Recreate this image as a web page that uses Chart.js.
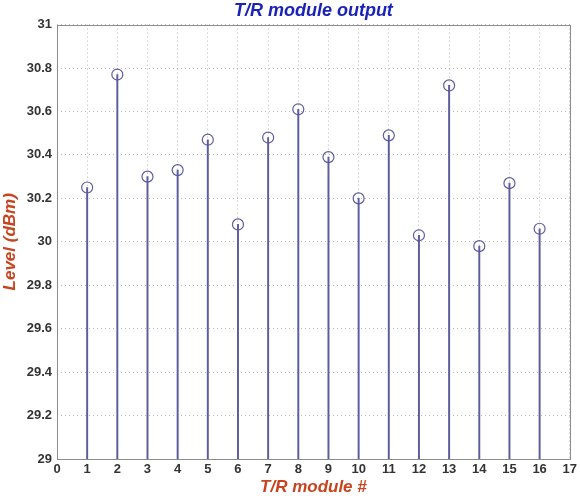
<!DOCTYPE html>
<html>
<head>
<meta charset="utf-8">
<script src="https://cdn.jsdelivr.net/npm/chart.js@4"></script>
<style>
  html, body { margin: 0; padding: 0; background: #fff; }
  #box { width: 580px; height: 498px; position: relative; }
</style>
</head>
<body>
<div id="box"><canvas id="grafica"></canvas></div>
<script>
const modules = [1, 2, 3, 4, 5, 6, 7, 8, 9, 10, 11, 12, 13, 14, 15, 16];
const levels = [30.25, 30.77, 30.30, 30.33, 30.47, 30.08, 30.48, 30.61,
                30.39, 30.20, 30.49, 30.03, 30.72, 29.98, 30.27, 30.06];
const xTicks = [0, 1, 2, 3, 4, 5, 6, 7, 8, 9, 10, 11, 12, 13, 14, 15, 16, 17];
const yTicks = [29, 29.2, 29.4, 29.6, 29.8, 30, 30.2, 30.4, 30.6, 30.8, 31];
const baseLevel = 29;

const stemColor = '#5c5c9e';
const tickFont = { family: 'Liberation Sans', size: 13, weight: 'bold' };
const labelFont = { family: 'Liberation Sans', size: 17, weight: 'bold', style: 'italic' };

// box around the plot area, like matlab axes
const axesBox = {
  id: 'axesBox',
  afterDraw(chart) {
    const a = chart.chartArea;
    const c = chart.ctx;
    c.save();
    c.strokeStyle = '#8c8c8c';
    c.lineWidth = 1;
    c.strokeRect(Math.round(a.left) + 0.5, Math.round(a.top) + 0.5,
                 Math.round(a.right - a.left), Math.round(a.bottom - a.top));
    c.restore();
  }
};

const ctx = document.getElementById('grafica').getContext('2d');
const grafica = new Chart(ctx, {
  type: 'scatter',
  data: {
    datasets: [
      {
        type: 'bar',
        label: 'stems',
        data: modules.map((m, i) => ({ x: m, y: [baseLevel, levels[i]] })),
        backgroundColor: stemColor,
        borderWidth: 0,
        barThickness: 1.3,
        order: 2
      },
      {
        type: 'scatter',
        label: 'Level',
        data: modules.map((m, i) => ({ x: m, y: levels[i] })),
        pointStyle: 'circle',
        pointRadius: 5.5,
        pointBorderWidth: 1.2,
        borderColor: stemColor,
        backgroundColor: 'rgba(255,255,255,0)',
        order: 1
      }
    ]
  },
  options: {
    responsive: true,
    maintainAspectRatio: false,
    animation: false,
    layout: { padding: { left: 0, right: 8, top: 0, bottom: 0 } },
    scales: {
      x: {
        type: 'linear',
        min: xTicks[0],
        max: xTicks[xTicks.length - 1],
        offset: false,
        afterBuildTicks: s => { s.ticks = xTicks.map(v => ({ value: v })); },
        ticks: { color: '#333', font: tickFont, padding: 3, maxRotation: 0, autoSkip: false },
        grid: { offset: false, color: '#b8b8b8', lineWidth: 1, tickLength: 0 },
        border: { display: false, dash: [1, 3] },
        title: {
          display: true,
          text: 'T/R module #',
          color: '#c8441f',
          font: labelFont,
          padding: { top: 0, bottom: 0 }
        },
        afterFit: s => { s.height = 39; }
      },
      y: {
        min: yTicks[0],
        max: yTicks[yTicks.length - 1],
        afterBuildTicks: s => { s.ticks = yTicks.map(v => ({ value: v })); },
        ticks: { color: '#333', font: tickFont, padding: 5, callback: v => String(Math.round(v * 10) / 10) },
        grid: { color: '#b8b8b8', lineWidth: 1, tickLength: 0 },
        border: { display: false, dash: [1, 3] },
        title: {
          display: true,
          text: 'Level (dBm)',
          color: '#c8441f',
          font: labelFont,
          padding: { top: 0, bottom: 0 }
        },
        afterFit: s => { s.width = 57; }
      }
    },
    plugins: {
      legend: { display: false },
      tooltip: { enabled: false },
      title: {
        display: true,
        fullSize: false,
        text: 'T/R module output',
        color: '#1a22b8',
        font: { family: 'Liberation Sans', size: 18, weight: 'bold', style: 'italic' },
        padding: { top: 0, bottom: 3 }
      }
    }
  },
  plugins: [axesBox]
});
</script>
</body>
</html>
